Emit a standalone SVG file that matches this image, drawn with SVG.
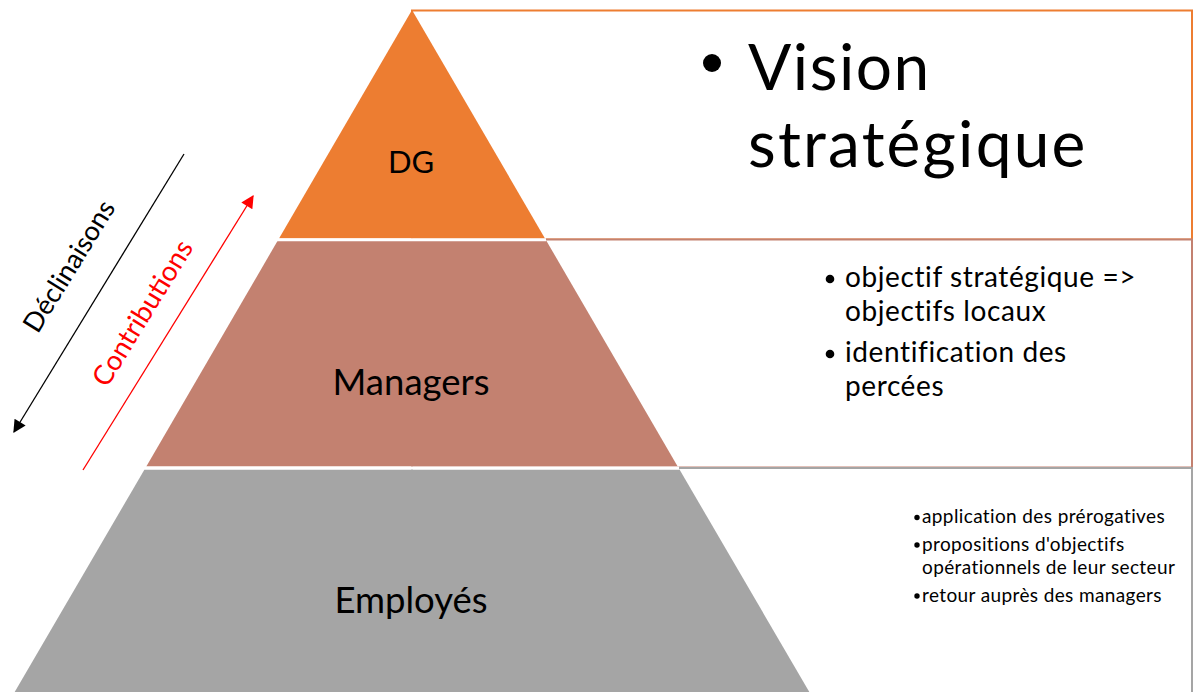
<svg xmlns="http://www.w3.org/2000/svg" width="1195" height="692" viewBox="0 0 1195 692">
<defs>
<style>
text{font-family:Lato,"Open Sans","Liberation Sans",sans-serif;fill:#000}
.lbl{text-anchor:middle}
.box{fill:#fff;stroke-width:2}
.gap{stroke:#fff;stroke-width:3}
.t2{font-size:28px;letter-spacing:0.6px}
.t3{font-size:19px;letter-spacing:0.38px}
</style>
<marker id="ahBlack" viewBox="0 0 10 10" refX="9" refY="5" markerWidth="11" markerHeight="10" markerUnits="strokeWidth" orient="auto"><path d="M0,0 L10,5 L0,10 Z" fill="#000"/></marker>
<marker id="ahRed" viewBox="0 0 10 10" refX="9" refY="5" markerWidth="11" markerHeight="10" markerUnits="strokeWidth" orient="auto"><path d="M0,0 L10,5 L0,10 Z" fill="#f00"/></marker>
</defs>
<rect width="1195" height="692" fill="#fff"/>
<g id="box-vision">
<rect class="box" x="412" y="10.5" width="780" height="229" stroke="#ED7D31"/>
<circle cx="712" cy="63" r="9"/>
<text x="748" y="90" font-size="64"><tspan letter-spacing="1.5">Vision</tspan><tspan x="748" y="167" letter-spacing="2.2">stratégique</tspan></text>
</g>
<g id="box-managers">
<rect class="box" x="412" y="239.5" width="780" height="228" stroke="#C38170"/>
<circle cx="830" cy="279" r="4.3"/>
<text class="t2" x="845" y="287">objectif stratégique =&gt;<tspan x="845" y="321">objectifs locaux</tspan></text>
<circle cx="830" cy="354" r="4.3"/>
<text class="t2" x="845" y="362">identification des<tspan x="845" y="396">percées</tspan></text>
</g>
<g id="box-employes">
<rect class="box" x="412" y="468" width="780" height="240" stroke="#A5A5A5"/>
<circle cx="917" cy="517.5" r="2.7"/>
<text class="t3" x="922" y="523">application des prérogatives</text>
<circle cx="917" cy="545" r="2.7"/>
<text class="t3" x="922" y="551">propositions d'objectifs<tspan x="922" y="574">opérationnels de leur secteur</tspan></text>
<circle cx="917" cy="596" r="2.7"/>
<text class="t3" x="922" y="602">retour auprès des managers</text>
</g>
<g id="layer-dg">
<polygon points="412,10 545,238.5 279,238.5" fill="#ED7D31"/>
<text class="lbl" x="411" y="173" font-size="31">DG</text>
</g>
<g id="layer-managers">
<polygon points="277.5,241 546.5,241 677.7,466.5 146.3,466.5" fill="#C38170"/>
<text class="lbl" x="411" y="395" font-size="36.5">Managers</text>
</g>
<g id="layer-employes">
<polygon points="144.5,469.5 679.5,469.5 814,700 10,700" fill="#A5A5A5"/>
<text class="lbl" x="411" y="613" font-size="36.5">Employés</text>
</g>
<g id="gaps">
<line class="gap" x1="270" y1="239.8" x2="546" y2="239.8"/>
<line class="gap" x1="140" y1="468" x2="679" y2="468"/>
</g>
<g id="connectors">
<line x1="184" y1="154" x2="14" y2="432" stroke="#000" stroke-width="1.3" marker-end="url(#ahBlack)"/>
<line x1="83" y1="470" x2="253" y2="196" stroke="#f00" stroke-width="1.3" marker-end="url(#ahRed)"/>
</g>
<g id="labels">
<text class="lbl" x="77" y="271" font-size="27" transform="rotate(-58.3 77 271)">Déclinaisons</text>
<text class="lbl" x="150.5" y="318" font-size="27.5" style="fill:#f00" transform="rotate(-58.3 150.5 318)">Contributions</text>
</g>
</svg>
